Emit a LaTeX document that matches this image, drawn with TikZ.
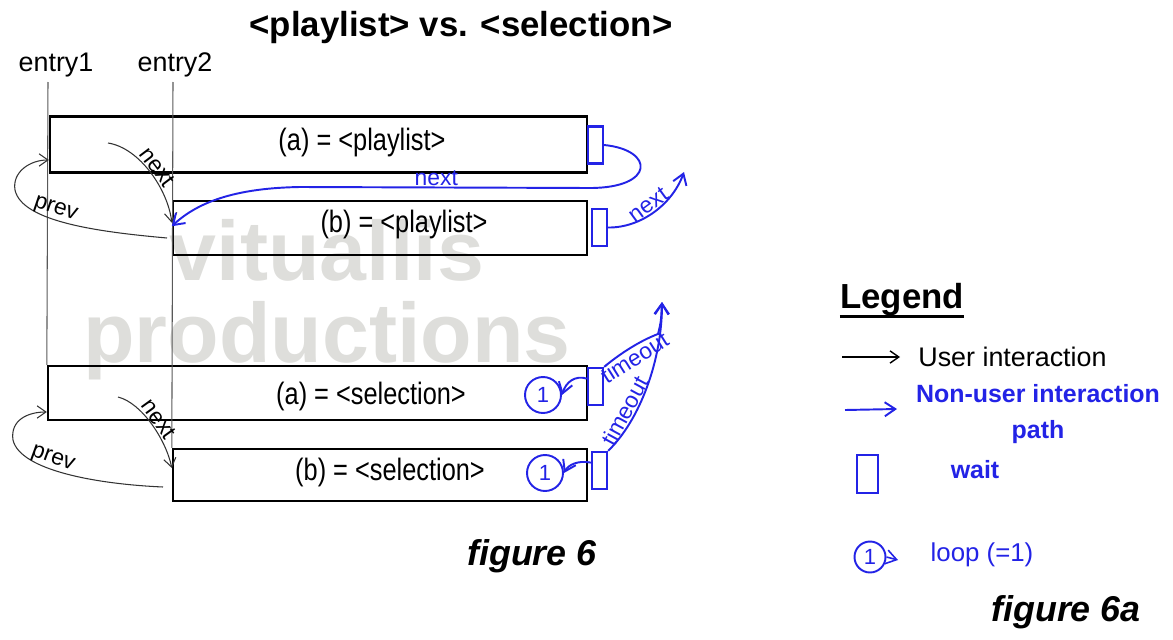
\documentclass[tikz,border=0pt]{standalone}
\usepackage{fontspec}
\setmainfont{Liberation Sans}
\newfontfamily\narrowfont[FakeStretch=0.82]{Liberation Sans}
\usetikzlibrary{arrows.meta}

\definecolor{pathblue}{RGB}{35,35,230}
\definecolor{markgray}{RGB}{222,222,219}

\tikzset{
  listbox/.style={draw, line width=1.4pt, inner sep=0pt},
  waitbox/.style={draw=pathblue, line width=1.3pt, minimum width=0.3cm,
    minimum height=0.74cm, inner sep=0pt},
  loopmark/.style={circle, draw=pathblue, line width=1.1pt, minimum size=0.72cm,
    inner sep=0pt, text=pathblue, font=\fontsize{12.5}{13}\selectfont},
  boxtext/.style={font=\narrowfont\fontsize{17.6}{18}\selectfont},
  entryline/.style={draw=black!65, line width=0.6pt},
  usermove/.style={draw=black!80, line width=0.6pt,
    -{Straight Barb[length=5pt,width=7pt]}},
  automove/.style={draw=pathblue, line width=1.1pt,
    -{Straight Barb[length=6pt,width=8pt]}},
  arclabel/.style={font=\fontsize{13}{13}\selectfont, inner sep=0.5pt},
  legendtext/.style={anchor=west, inner sep=0pt, font=\fontsize{15.3}{16}\selectfont},
}

\begin{document}
\begin{tikzpicture}[x=0.02cm, y=-0.02cm]
\useasboundingbox (0,0) rectangle (1173,639);

% watermark behind everything
\node[text=markgray, anchor=base, font=\bfseries\fontsize{48}{48}\selectfont] (mark1) at (327,280) {vituallis};
\node[text=markgray, anchor=base, font=\bfseries\fontsize{48}{48}\selectfont] (mark2) at (327,362) {productions};

% title and entry points
\node[anchor=base, font=\bfseries\fontsize{19.8}{20}\selectfont] (title) at (461,36) {<playlist> vs. <selection>};
\node[anchor=base, font=\fontsize{15.3}{16}\selectfont] (entry1) at (56,71) {entry1};
\node[anchor=base, font=\fontsize{15.3}{16}\selectfont] (entry2) at (175,71) {entry2};

% playlist entries
\node[listbox, minimum width=10.74cm, minimum height=1.12cm] (pla) at (318.5,144.5) {};
\node[boxtext] (pla-txt) at (362,143) {(a) = <playlist>};
\node[listbox, minimum width=8.28cm, minimum height=1.08cm] (plb) at (380,228) {};
\node[boxtext] (plb-txt) at (404,225) {(b) = <playlist>};

% selection entries
\node[listbox, minimum width=10.78cm, minimum height=1.08cm] (sela) at (317.5,393) {};
\node[boxtext] (sela-txt) at (371,396) {(a) = <selection>};
\node[listbox, minimum width=8.28cm, minimum height=1.04cm] (selb) at (380,475) {};
\node[boxtext] (selb-txt) at (390,472) {(b) = <selection>};

% entry lines
\coordinate (e1top) at (48,82);
\coordinate (e2top) at (173,82);
\draw[entryline] (e1top) -- (sela.north west);
\draw[entryline] (e2top) -- (selb.north west);

% wait marks
\node[waitbox] (wpa) at (595.5,145) {};
\node[waitbox] (wpb) at (599.5,227.5) {};
\node[waitbox] (wsa) at (595.5,386.5) {};
\node[waitbox] (wsb) at (599.5,470.5) {};

% loop marks
\node[loopmark] (loopa) at (543,395) {1};
\node[loopmark] (loopb) at (545,473) {1};

% user moves
\coordinate (pla-next) at (108,143);
\draw[usermove] (pla-next) .. controls (140,148) and (168,190) .. ([yshift=3pt]plb.west)
  node[arclabel, sloped, above, pos=0.5] {next};
\coordinate (plb-prev) at (167,238);
\draw[usermove] (plb-prev) .. controls (100,232) and (22,222) .. (15,190)
  node[arclabel, sloped, above, pos=0.6] {prev}
  .. controls (12,172) and (30,160) .. ([yshift=-8.8pt]pla.west);
\coordinate (sela-next) at (118,397);
\draw[usermove] (sela-next) .. controls (142,403) and (166,440) .. ([yshift=4pt]selb.west)
  node[arclabel, sloped, above, pos=0.5] {next};
\coordinate (selb-prev) at (163,487);
\draw[usermove] (selb-prev) .. controls (95,484) and (20,470) .. (13,440)
  node[arclabel, sloped, above, pos=0.6] {prev}
  .. controls (10,420) and (28,412) .. ([yshift=-10.8pt]sela.west);

% automatic moves
\draw[automove] (wpa.east) .. controls (655,150) and (655,188) .. (590,188)
  -- (300,187) node[arclabel, text=pathblue, above, pos=0.53] {next}
  .. controls (240,188) and (200,200) .. ([yshift=1pt]plb.west);
\coordinate (plb-out) at (684,172);
\draw[automove] (wpb.east) .. controls (640,228) and (672,205) .. (plb-out)
  node[arclabel, text=pathblue, sloped, above, pos=0.5] {next};
\coordinate (sel-out) at (662,302);
\coordinate (sel-join) at (658,334);
\draw[automove] (wsb.north east) .. controls (640,420) and (662,360) .. (sel-out)
  node[arclabel, text=pathblue, sloped, above, pos=0.3] {timeout};
\draw[automove] (wsa.north east) .. controls (622,352) and (642,340) .. (sel-join)
  node[arclabel, text=pathblue, sloped, below, pos=0.45] {timeout}
  .. controls (661,322) .. (sel-out);
\draw[automove] ([yshift=4.5pt]wsa.west) .. controls (575,375) and (566,382) .. (loopa.east);
\draw[automove] ([yshift=4.5pt]wsb.west) .. controls (578,460) and (568,465) .. (loopb.east);

% legend
\node[anchor=base, inner sep=0pt, font=\bfseries\fontsize{19.8}{20}\selectfont] (legend) at (902,308) {Legend};
\draw[line width=1.5pt] ([yshift=-5pt]legend.base west) -- ([yshift=-5pt]legend.base east);

\node[legendtext] (lg-user) at (918,357) {User interaction};
\coordinate (lg-user-a) at (842,357);
\coordinate (lg-user-b) at (900,357);
\draw[usermove, draw=black, line width=0.8pt] (lg-user-a) -- (lg-user-b);

\node[text=pathblue, align=center, font=\bfseries\fontsize{14.2}{20.4}\selectfont] (lg-auto) at (1038,414) {Non-user interaction\\path};
\coordinate (lg-auto-a) at (845,410);
\coordinate (lg-auto-b) at (897,409);
\draw[automove] (lg-auto-a) -- (lg-auto-b);

\node[waitbox, minimum width=0.42cm, minimum height=0.76cm] (lg-wait) at (867.5,474) {};
\node[text=pathblue, font=\bfseries\fontsize{14.2}{15}\selectfont] (lg-wait-txt) at (975,470) {wait};

\node[loopmark, minimum size=0.62cm] (lg-loop) at (870,557) {1};
\coordinate (lg-loop-b) at (898,560);
\draw[automove, line width=0.9pt] (lg-loop.east) -- (lg-loop-b);
\node[text=pathblue, font=\fontsize{14.7}{15}\selectfont] (lg-loop-txt) at (982,555) {loop (=1)};

% captions
\node[font=\bfseries\itshape\fontsize{20.4}{21}\selectfont] (fig6) at (532,556) {figure 6};
\node[font=\bfseries\itshape\fontsize{20.4}{21}\selectfont] (fig6a) at (1066,612) {figure 6a};
\end{tikzpicture}
\end{document}
